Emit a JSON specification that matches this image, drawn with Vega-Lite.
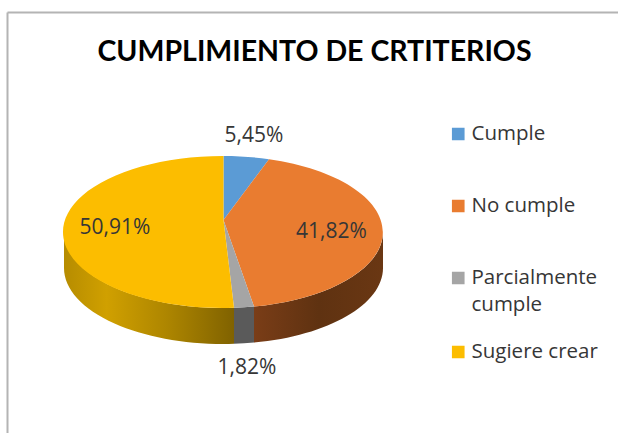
{
  "$schema": "https://vega.github.io/schema/vega-lite/v6.json",
  "width": 611,
  "height": 421,
  "autosize": {"type": "none"},
  "padding": {"left": 7, "top": 12, "right": 0, "bottom": 0},
  "background": "white",
  "title": {"text": "CUMPLIMIENTO DE CRTITERIOS", "font": "Lato", "fontSize": 28.5, "fontWeight": "bold", "color": "#000000", "anchor": "middle", "orient": "top", "offset": -54, "dx": 2},
  "config": {"view": {"stroke": null}},
  "data": {"values": [
    {"categoria": "Cumple", "porcentaje": 5.45, "etiqueta": "5,45%"},
    {"categoria": "No cumple", "porcentaje": 41.82, "etiqueta": "41,82%"},
    {"categoria": "Parcialmente cumple", "porcentaje": 1.82, "etiqueta": "1,82%"},
    {"categoria": "Sugiere crear", "porcentaje": 50.91, "etiqueta": "50,91%"}
  ]},
  "layer": [
    {
      "transform": [{"filter": "datum.categoria === 'No cumple'"}],
      "mark": {"type": "point", "filled": true, "opacity": 1, "strokeWidth": 0, "size": 4,
        "shape": "M159.5,12 A159.5,76 0 0 1 30.5,86.6 L30.5,122.6 A159.5,76 0 0 0 159.5,48 Z",
        "color": {"gradient": "linear", "x1": 0, "y1": 0, "x2": 1, "y2": 0, "stops": [{"offset": 0, "color": "#7a3d17"}, {"offset": 0.5, "color": "#5f3211"}, {"offset": 1, "color": "#6a3713"}]}},
      "encoding": {
        "x": {"datum": 216.5, "scale": {"domain": [0, 611], "range": [0, 611], "nice": false}, "axis": {"orient": "top", "title": null, "ticks": false, "labels": false, "grid": false, "domainColor": "#b4b4b4", "domainWidth": 2}},
        "y": {"datum": 208, "scale": {"domain": [0, 421], "range": [0, 421], "nice": false}, "axis": {"title": null, "ticks": false, "labels": false, "grid": false, "domainColor": "#b4b4b4", "domainWidth": 2}}
      }
    },
    {
      "transform": [{"filter": "datum.categoria === 'Parcialmente cumple'"}],
      "mark": {"type": "point", "filled": true, "opacity": 1, "strokeWidth": 0, "size": 4,
        "shape": "M30.5,86.6 A159.5,76 0 0 1 10.5,87.8 L10.5,123.8 A159.5,76 0 0 0 30.5,122.6 Z",
        "color": "#5a5a5a"},
      "encoding": {"x": {"datum": 216.5}, "y": {"datum": 208}}
    },
    {
      "transform": [{"filter": "datum.categoria === 'Sugiere crear'"}],
      "mark": {"type": "point", "filled": true, "opacity": 1, "strokeWidth": 0, "size": 4,
        "shape": "M10.5,87.8 A159.5,76 0 0 1 -159.5,12 L-159.5,48 A159.5,76 0 0 0 10.5,123.8 Z",
        "color": {"gradient": "linear", "x1": 0, "y1": 0, "x2": 1, "y2": 0, "stops": [{"offset": 0, "color": "#b68c00"}, {"offset": 0.25, "color": "#d0a000"}, {"offset": 0.6, "color": "#ae8600"}, {"offset": 1, "color": "#806200"}]}},
      "encoding": {"x": {"datum": 216.5}, "y": {"datum": 208}}
    },
    {
      "mark": {"type": "point", "filled": true, "opacity": 1, "strokeWidth": 0, "size": 4},
      "encoding": {
        "x": {"datum": 216.5},
        "y": {"datum": 208},
        "shape": {"field": "etiqueta", "type": "nominal", "legend": null, "scale": {
          "domain": ["5,45%", "41,82%", "1,82%", "50,91%"],
          "range": [
            "M0,0 L0,-64 A159.5,76 0 0 1 45.5,-60.8 Z",
            "M0,0 L45.5,-60.8 A159.5,76 0 0 1 30.5,86.6 Z",
            "M0,0 L30.5,86.6 A159.5,76 0 0 1 10.5,87.8 Z",
            "M0,0 L10.5,87.8 A159.5,76 0 1 1 0,-64 Z"
          ]}},
        "color": {"field": "categoria", "type": "nominal",
          "scale": {"domain": ["Cumple", "No cumple", "Parcialmente cumple", "Sugiere crear"], "range": ["#5b9bd5", "#e97c30", "#a5a5a5", "#fcbd00"]},
          "legend": {"orient": "none", "legendX": 441, "legendY": 86, "title": null, "symbolType": "square", "symbolSize": 160, "symbolStrokeWidth": 0, "symbolOpacity": 1, "labelFont": "Open Sans", "labelFontSize": 20.5, "labelColor": "#363636", "labelOffset": 3, "rowPadding": 0, "clipHeight": 72, "labelLimit": 200,
            "encode": {"labels": {"update": {"lineHeight": {"value": 27}}}},
            "labelExpr": "datum.label === 'Parcialmente cumple' ? ['Parcialmente', 'cumple'] : datum.label"}
        }
      }
    },
    {
      "mark": {"type": "text", "font": "Open Sans", "fontSize": 21, "color": "#363636", "baseline": "middle", "align": "center"},
      "transform": [{"filter": "datum.categoria === 'Cumple'"}],
      "encoding": {"x": {"datum": 247}, "y": {"datum": 124}, "text": {"field": "etiqueta"}}
    },
    {
      "mark": {"type": "text", "font": "Open Sans", "fontSize": 21, "color": "#363636", "baseline": "middle", "align": "center"},
      "transform": [{"filter": "datum.categoria === 'No cumple'"}],
      "encoding": {"x": {"datum": 324.5}, "y": {"datum": 220}, "text": {"field": "etiqueta"}}
    },
    {
      "mark": {"type": "text", "font": "Open Sans", "fontSize": 21, "color": "#363636", "baseline": "middle", "align": "center"},
      "transform": [{"filter": "datum.categoria === 'Parcialmente cumple'"}],
      "encoding": {"x": {"datum": 240}, "y": {"datum": 356}, "text": {"field": "etiqueta"}}
    },
    {
      "mark": {"type": "text", "font": "Open Sans", "fontSize": 21, "color": "#363636", "baseline": "middle", "align": "center"},
      "transform": [{"filter": "datum.categoria === 'Sugiere crear'"}],
      "encoding": {"x": {"datum": 108}, "y": {"datum": 216}, "text": {"field": "etiqueta"}}
    }
  ]
}
